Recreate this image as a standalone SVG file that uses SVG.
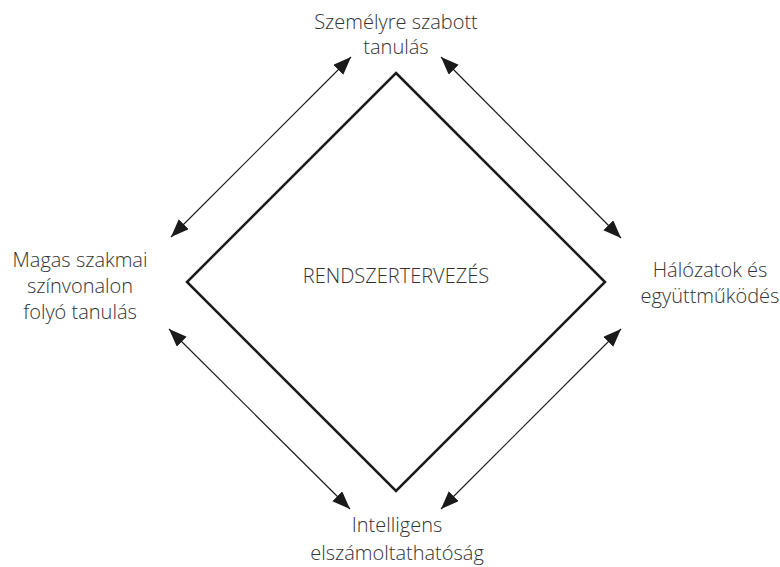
<svg xmlns="http://www.w3.org/2000/svg" width="780" height="567" viewBox="0 0 780 567">
<style>
.lbl{font-family:"Open Sans","Noto Sans",sans-serif;font-size:20px;font-weight:300;fill:#333;text-anchor:middle}
.conn{stroke:#1a1a1a;stroke-width:1.2;fill:none;marker-start:url(#ah);marker-end:url(#ah)}
</style>
<defs>
<marker id="ah" markerUnits="userSpaceOnUse" markerWidth="20" markerHeight="16" refX="18" refY="7" orient="auto-start-reverse">
<path d="M0,0 L18,7 L0,14 z" fill="#1a1a1a"/>
</marker>
</defs>
<rect width="780" height="567" fill="#fff"/>
<g id="center">
<polygon points="396,73 605,282 396,491 187,282" fill="none" stroke="#1a1a1a" stroke-width="2.5"/>
<text class="lbl" x="396" y="283">RENDSZERTERVEZÉS</text>
</g>
<g id="top"><text class="lbl" x="396" y="29">Személyre szabott</text><text class="lbl" x="396" y="54">tanulás</text></g>
<g id="left"><text class="lbl" x="80" y="267">Magas szakmai</text><text class="lbl" x="80" y="293">színvonalon</text><text class="lbl" x="80" y="319">folyó tanulás</text></g>
<g id="right"><text class="lbl" x="710" y="277">Hálózatok és</text><text class="lbl" x="710" y="303">együttműködés</text></g>
<g id="bottom"><text class="lbl" x="397" y="532">Intelligens</text><text class="lbl" x="397" y="560">elszámoltathatóság</text></g>
<g id="connectors">
<line class="conn" x1="171" y1="237" x2="351" y2="57"/>
<line class="conn" x1="441" y1="57" x2="621" y2="238"/>
<line class="conn" x1="169" y1="329" x2="350" y2="509"/>
<line class="conn" x1="621" y1="329" x2="441" y2="509"/>
</g>
</svg>
